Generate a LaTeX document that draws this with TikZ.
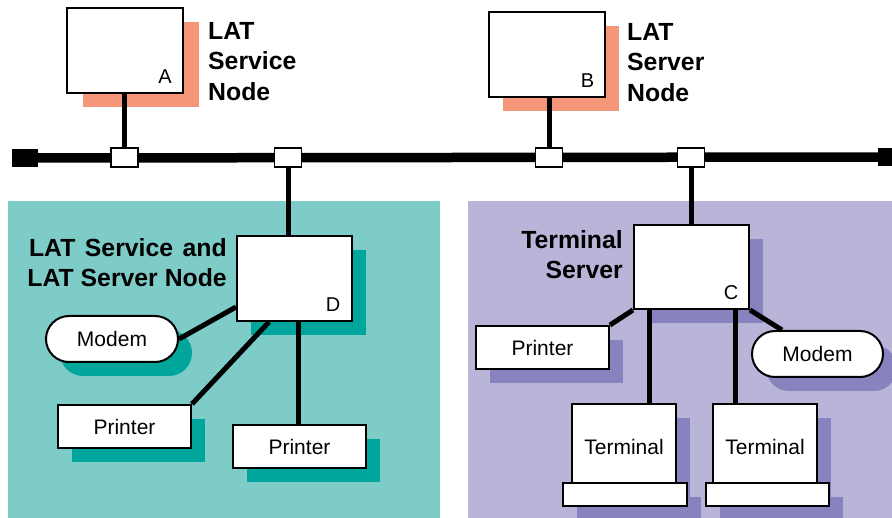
\documentclass[tikz,border=0pt]{standalone}
\usepackage{fontspec}
\setmainfont{Liberation Sans}
\usetikzlibrary{shadows}
\definecolor{salmon}{HTML}{F69679}
\definecolor{tealL}{HTML}{7ECCC8}
\definecolor{tealD}{HTML}{00A69C}
\definecolor{lavL}{HTML}{B9B5D9}
\definecolor{lavD}{HTML}{8882BE}
\begin{document}
\begin{tikzpicture}[x=1pt,y=-1pt,
  box/.style={draw=black, line width=2pt, fill=white, inner sep=0pt, font=\fontsize{21}{25}\selectfont},
  sh/.style={drop shadow={fill=#1, opacity=1, shadow xshift=14pt, shadow yshift=-14pt}},
  modembox/.style={box, rounded corners=23pt, minimum width=131pt, minimum height=46pt},
  printerbox/.style={box, minimum width=133pt, minimum height=43pt},
  nodebox/.style={box, minimum width=116pt, minimum height=85pt},
  tap/.style={draw=black, line width=1.5pt, fill=white, inner sep=0pt, minimum width=27pt, minimum height=19pt},
  busend/.style={fill=black, inner sep=0pt, minimum height=18pt},
  conn/.style={line width=5pt},
  lbl/.style={font=\bfseries\fontsize{24.8}{30.5}\selectfont, inner sep=0pt},
  letter/.style={font=\fontsize{20}{24}\selectfont, inner sep=0pt}
]
\useasboundingbox (0,0) rectangle (892,518);
% panels
\fill[tealL] (8,201) rectangle (440,518);
\fill[lavL] (468,201) rectangle (892,518);

% bus
\node[busend, minimum width=26pt] (bL) at (25,158) {};
\node[busend, minimum width=14pt] (bR) at (885,157) {};
\draw[line width=9.5pt] (bL.center) -- (bR.center);

% top nodes
\node[nodebox, drop shadow={fill=salmon, opacity=1, shadow xshift=16pt, shadow yshift=-14pt}] (A) at (125,50.5) {};
\node[letter] (lA) at ([shift={(-19,-17)}]A.south east) {A};
\node[nodebox, sh=salmon] (B) at (546.5,54.5) {};
\node[letter] (lB) at ([shift={(-18,-17)}]B.south east) {B};
\node[lbl, anchor=north west, align=left] (tA) at (208,22) {LAT\\Service\\Node};
\node[lbl, anchor=north west, align=left] (tB) at (627,23) {LAT\\Server\\Node};

% taps
\node[tap] (pA) at (124.5,157.5) {};
\node[tap] (pD) at (288,157.5) {};
\node[tap] (pB) at (549,157.5) {};
\node[tap] (pC) at (691,157.5) {};
\draw[conn] (pA.north) -- (pA.north |- A.south);
\draw[conn] (pB.north) -- (pB.north |- B.south);

% left panel
\node[nodebox, minimum width=115pt, sh=tealD] (D) at (294.5,278.5) {};
\node[letter] (lD) at ([shift={(-20,-17.5)}]D.south east) {D};
\node[lbl, anchor=north east, align=right] (tD) at (227,238) {\spaceskip=9.5pt LAT Service and\\LAT Server Node};
\node[modembox, minimum width=132pt, sh=tealD] (ML) at (112,339) {Modem};
\node[printerbox, sh=tealD] (P1) at (124.5,426.5) {Printer};
\node[printerbox, sh=tealD] (P2) at (299.5,446.5) {Printer};
\draw[conn] (pD.south) -- (pD.south |- D.north);
\draw[conn] (ML.east) -- ([yshift=15pt]D.south west);
\draw[conn] (P1.north east) -- ([xshift=33pt]D.south west);
\draw[conn] ([xshift=62pt]D.south west) -- ([xshift=62pt]D.south west |- P2.north);

% right panel
\node[nodebox, minimum width=115pt, minimum height=84pt, sh=lavD] (C) at (691.5,267) {};
\node[letter] (lC) at ([shift={(-19,-17)}]C.south east) {C};
\node[lbl, anchor=north east, align=right] (tC) at (623,230) {Terminal\\Server};
\node[printerbox, sh=lavD] (PR) at (542.5,347.5) {Printer};
\node[modembox, sh=lavD] (MR) at (817.5,354) {Modem};
\node[box, minimum width=104pt, minimum height=79pt, sh=lavD] (T1) at (624,443.5) {\raisebox{-3.5pt}[15pt][0pt]{Terminal}};
\node[box, minimum width=124pt, minimum height=23pt, sh=lavD] (T1b) at (625,494.5) {};
\node[box, minimum width=104pt, minimum height=79pt, sh=lavD] (T2) at (765,443.5) {\raisebox{-3.5pt}[15pt][0pt]{Terminal}};
\node[box, minimum width=123pt, minimum height=23pt, sh=lavD] (T2b) at (767.5,494.5) {};
\draw[conn] (pC.south) -- (pC.south |- C.north);
\draw[conn] (PR.north east) -- (C.south west);
\draw[conn] (C.south east) -- ([xshift=31pt]MR.north west);
\draw[conn] ([xshift=16pt]C.south west) -- ([xshift=16pt]C.south west |- T1.north);
\draw[conn] ([xshift=102pt]C.south west) -- ([xshift=102pt]C.south west |- T2.north);
% redraw terminal bases above monitor shadows
\node[box, minimum width=124pt, minimum height=23pt] at (T1b) {};
\node[box, minimum width=123pt, minimum height=23pt] at (T2b) {};
\end{tikzpicture}
\end{document}
